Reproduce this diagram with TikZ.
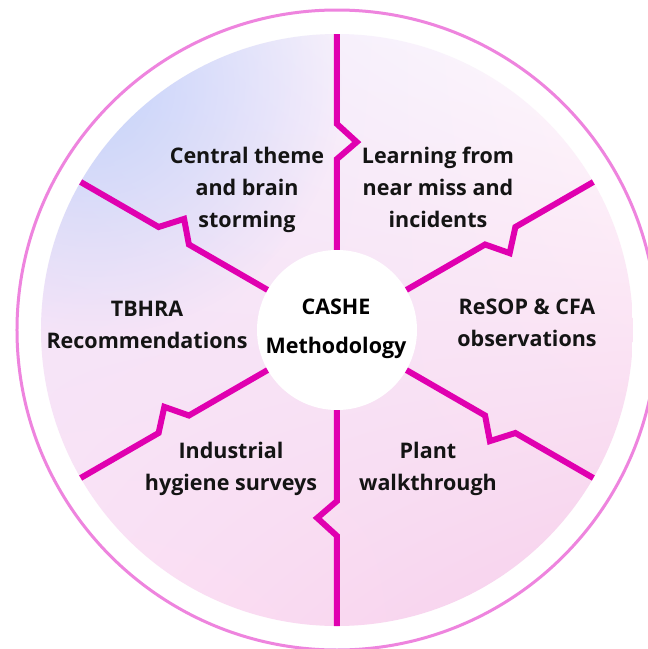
\documentclass[tikz,border=0pt]{standalone}
\usepackage{fontspec}
\setmainfont{Open Sans}
\usepackage{tikz}
\usetikzlibrary{positioning,shadings,fadings}
\usepackage{xcolor}
\definecolor{spokepink}{RGB}{224,0,176}
\definecolor{ringpink}{RGB}{238,132,222}
\definecolor{discblue}{RGB}{198,212,250}
\definecolor{disclav}{RGB}{238,230,250}
\definecolor{discwhite}{RGB}{255,250,253}
\definecolor{discrose}{RGB}{252,226,245}
\definecolor{discpink}{RGB}{246,206,235}
\tikzfading[name=glow, inner color=transparent!0, outer color=transparent!100]

\begin{document}
\begin{tikzpicture}[
    x=1pt, y=1pt,
    spoke/.style={spokepink, line width=6pt, line join=miter},
    ring/.style={ringpink, line width=3pt},
    label/.style={align=center, text=black!92, font=\bfseries\fontsize{21.5}{32}\selectfont},
    core/.style={circle, fill=white, minimum size=160pt, inner sep=0pt, align=center,
                 font=\bfseries\fontsize{21.5}{39}\selectfont},
]
% Page: 648 x 649 with the wheel centre at (0,0).
\clip (-337,-319) rectangle (311,330);
\fill[white] (-337,-319) rectangle (311,330);

% Outer ring and shaded disc.
\draw[ring] (0,0) circle (320);
\begin{scope}
  \clip (0,0) circle (296);
  \shade[upper left=disclav, upper right=discwhite,
         lower left=discrose, lower right=discpink] (-296,-296) rectangle (296,296);
  \fill[discblue, path fading=glow] (-245,245) circle (250);
\end{scope}

% Hub.
\node[core] (hub) at (0,0) {};

% Six spokes, each with a notch.
\foreach \a in {90,30,-30,-90,-150,150} {
  \draw[spoke] (\a:296) -- (\a:206) -- (\a-6:189) -- (\a:171) -- (hub.\a);
}

\node[core, fill=none] (cashe) at (-1,1) {CASHE\\Methodology};

% Segment labels.
\node[label] (theme)   at (-90,140)  {Central theme\\and brain\\storming};
\node[label] (learn)   at (101,143)  {Learning from\\near miss and\\incidents};
\node[label] (resop)   at (190,7)    {ReSOP \& CFA\\observations};
\node[label] (plant)   at (91,-139)  {Plant\\walkthrough};
\node[label] (hygiene) at (-106,-139) {Industrial\\hygiene surveys};
\node[label] (tbhra)   at (-190,5)   {TBHRA\\Recommendations};
\end{tikzpicture}
\end{document}
